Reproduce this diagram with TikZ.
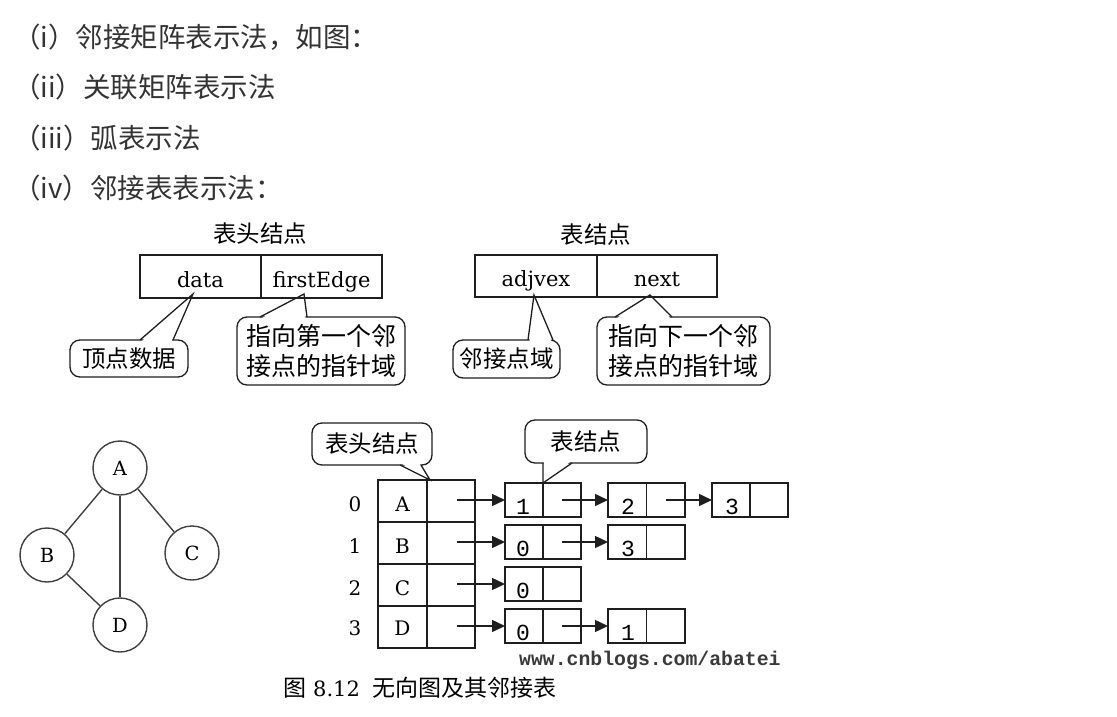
\documentclass[tikz,border=0pt]{standalone}
\usepackage{fontspec}
\setmainfont{DejaVu Serif}
\newfontfamily\cjk{Noto Sans CJK SC}
\newfontfamily\monof{Liberation Mono}
\usetikzlibrary{arrows.meta,calc}
\definecolor{txt}{HTML}{333333}
\definecolor{ln}{HTML}{1E1E1E}
\definecolor{wm}{HTML}{3A3A3A}
\tikzset{
  toptext/.style={anchor=base west, inner sep=0, text=txt, font=\cjk\fontsize{27.5}{30}\selectfont},
  cntitle/.style={inner sep=0, font=\cjk\fontsize{23.5}{28}\selectfont},
  cellbox/.style={draw=ln, line width=1.6pt, inner sep=0, outer sep=0},
  latlbl/.style={anchor=base, inner sep=0, font=\fontsize{21}{24}\selectfont},
  digit/.style={anchor=base, inner sep=0, font=\monof\fontsize{23}{24}\selectfont},
  bubble/.style={draw=ln, line width=1.3pt, rounded corners=10pt, fill=white, inner sep=0,
    font=\cjk\fontsize{23.5}{28}\selectfont},
  bubble2/.style={bubble, align=left, font=\cjk\fontsize{25}{30}\selectfont},
  ptr/.style={draw=ln, line width=1.3pt},
  arr/.style={draw=ln, line width=1.4pt, -{Triangle[length=13pt,width=12pt]}},
  vtx/.style={circle, draw=ln!85, line width=1.4pt, minimum size=54pt, inner sep=0,
    font=\fontsize{19.5}{22}\selectfont},
  gedge/.style={draw=ln!85, line width=1.4pt},
}
\begin{document}
\begin{tikzpicture}[x=1pt,y=-1pt]
\useasboundingbox (0,0) rectangle (1117,717);
\fill[white] (0,0) rectangle (1117,717);

% ---------- top text ----------
\node[toptext] (t1) at (13,47.5) {（i）邻接矩阵表示法，如图：};
\node[toptext] (t2) at (13,98) {（ii）关联矩阵表示法};
\node[toptext] (t3) at (13,148.5) {（iii）弧表示法};
\node[toptext] (t4) at (13,198.5) {（iv）邻接表表示法：};

% ---------- callouts (drawn first, tables on top) ----------
\node[bubble, minimum width=118, minimum height=37] (c1) at (129,358.5) {顶点数据};
\coordinate (c1a) at (140,340); \coordinate (c1b) at (173,340); \coordinate (c1t) at (193,294);
\fill[white] ($(c1a)+(1.5,1.5)$) -- (c1t) -- ($(c1b)+(-1.5,1.5)$) -- cycle;
\draw[ptr] (c1a) -- (c1t) -- (c1b);

\node[bubble2, minimum width=168, minimum height=68] (c2) at (321,351) {指向第一个邻\\接点的指针域};
\coordinate (c2a) at (260,317); \coordinate (c2b) at (307,317); \coordinate (c2t) at (304,294);
\fill[white] ($(c2a)+(1.5,1.5)$) -- (c2t) -- ($(c2b)+(-1.5,1.5)$) -- cycle;
\draw[ptr] (c2a) -- (c2t) -- (c2b);

\node[bubble, minimum width=107, minimum height=38] (c3) at (506.5,359) {邻接点域};
\coordinate (c3a) at (528,340); \coordinate (c3b) at (553,340); \coordinate (c3t) at (534,295);
\fill[white] ($(c3a)+(1.5,1.5)$) -- (c3t) -- ($(c3b)+(-1.5,1.5)$) -- cycle;
\draw[ptr] (c3a) -- (c3t) -- (c3b);

\node[bubble2, minimum width=173, minimum height=68] (c4) at (683.5,351) {指向下一个邻\\接点的指针域};
\coordinate (c4a) at (615,317); \coordinate (c4b) at (672,317); \coordinate (c4t) at (650,295);
\fill[white] ($(c4a)+(1.5,1.5)$) -- (c4t) -- ($(c4b)+(-1.5,1.5)$) -- cycle;
\draw[ptr] (c4a) -- (c4t) -- (c4b);

\node[bubble, minimum width=120, minimum height=42] (c5) at (372,444) {表头结点};
\coordinate (c5a) at (400,465); \coordinate (c5b) at (421,465); \coordinate (c5t) at (430,480);
\fill[white] ($(c5a)+(1.5,-1.5)$) -- (c5t) -- ($(c5b)+(-1.5,-1.5)$) -- cycle;
\draw[ptr] (c5a) -- (c5t) -- (c5b);

\node[bubble, minimum width=122, minimum height=43] (c6) at (586,441.5) {表结点};
\coordinate (c6a) at (543,463); \coordinate (c6b) at (572,463); \coordinate (c6t) at (543,483);
\fill[white] ($(c6a)+(0.8,-1.5)$) -- (c6t) -- ($(c6b)+(-1.5,-1.5)$) -- cycle;
\draw[ptr] (c6a) -- (c6t) -- (c6b);

% ---------- node structure definitions ----------
\node[cntitle] (h1) at (260,234) {表头结点};
\node[cellbox, minimum width=121, minimum height=43] (hd) at (200.5,276.5) {};
\node[cellbox, minimum width=121, minimum height=43] (hf) at (321.5,276.5) {};
\node[latlbl] (hdl) at (200.5,287) {data};
\node[latlbl] (hfl) at (321.5,287) {firstEdge};

\node[cntitle] (h2) at (596,235) {表结点};
\node[cellbox, minimum width=122, minimum height=42] (ta) at (536,276) {};
\node[cellbox, minimum width=120, minimum height=42] (tn) at (657,276) {};
\node[latlbl] (tal) at (536,286) {adjvex};
\node[latlbl] (tnl) at (657,286) {next};

% ---------- graph ----------
\node[vtx] (A) at (120,468) {A};
\node[vtx] (B) at (47,555) {B};
\node[vtx] (C) at (192,553) {C};
\node[vtx] (D) at (120,625) {D};
\draw[gedge] (A) -- (B);
\draw[gedge] (A) -- (C);
\draw[gedge] (A) -- (D);
\draw[gedge] (B) -- (D);

% ---------- vertex table ----------
\foreach \i/\yc/\v/\b in {0/501/A/511,1/543/B/553,2/585/C/595,3/627/D/635}{
  \node[cellbox, minimum width=49, minimum height=42] (v\i) at (402.5,\yc) {};
  \node[cellbox, minimum width=48, minimum height=42] (f\i) at (451,\yc) {};
  \node[latlbl, font=\fontsize{20}{22}\selectfont] (vl\i) at (402.5,\b) {\v};
  \node[latlbl, font=\fontsize{20}{22}\selectfont] (ix\i) at (355,\b) {\i};
}

% ---------- edge lists ----------
% row 0
\node[cellbox, minimum width=38, minimum height=34] (n01) at (524,500) {};
\node[cellbox, minimum width=38, minimum height=34] (p01) at (562,500) {};
\node[cellbox, minimum width=38.5, minimum height=34] (n02) at (627.25,500) {};
\node[cellbox, minimum width=38.5, minimum height=34] (p02) at (665.75,500) {};
\node[cellbox, minimum width=38, minimum height=34] (n03) at (731,500) {};
\node[cellbox, minimum width=38, minimum height=34] (p03) at (769,500) {};
\node[digit] (d01) at (523,514) {1};
\node[digit] (d02) at (628,514) {2};
\node[digit] (d03) at (732,514) {3};
% row 1
\node[cellbox, minimum width=38, minimum height=34] (n11) at (524,542) {};
\node[cellbox, minimum width=38, minimum height=34] (p11) at (562,542) {};
\node[cellbox, minimum width=38.5, minimum height=34] (n12) at (627.25,542) {};
\node[cellbox, minimum width=38.5, minimum height=34] (p12) at (665.75,542) {};
\node[digit] (d11) at (523,556) {0};
\node[digit] (d12) at (628,556) {3};
% row 2
\node[cellbox, minimum width=38, minimum height=34] (n21) at (524,584) {};
\node[cellbox, minimum width=38, minimum height=34] (p21) at (562,584) {};
\node[digit] (d21) at (523,598) {0};
% row 3
\node[cellbox, minimum width=38, minimum height=34] (n31) at (524,626) {};
\node[cellbox, minimum width=38, minimum height=34] (p31) at (562,626) {};
\node[cellbox, minimum width=38.5, minimum height=34] (n32) at (627.25,626) {};
\node[cellbox, minimum width=38.5, minimum height=34] (p32) at (665.75,626) {};
\node[digit] (d31) at (523,640) {0};
\node[digit] (d32) at (628,640) {1};

% arrows from head table
\coordinate (s0) at (457,500);
\coordinate (s1) at (457,542);
\coordinate (s2) at (457,584);
\coordinate (s3) at (457,626);
\draw[arr] (s0) -- (n01.west);
\draw[arr] (s1) -- (n11.west);
\draw[arr] (s2) -- (n21.west);
\draw[arr] (s3) -- (n31.west);
% arrows between list nodes
\draw[arr] (p01.center) -- (n02.west);
\draw[arr] (p02.center) -- (n03.west);
\draw[arr] (p11.center) -- (n12.west);
\draw[arr] (p31.center) -- (n32.west);

% ---------- watermark and caption ----------
\node[anchor=base west, inner sep=0, text=wm, font=\monof\bfseries\fontsize{19.8}{22}\selectfont] (wmk) at (519,665) {www.cnblogs.com/abatei};
\node[anchor=base west, inner sep=0, font=\cjk\fontsize{23}{26}\selectfont] (cap) at (283,696) {图\hspace{7pt}{\fontsize{21}{24}\selectfont\rmfamily 8.12}\hspace{13pt}无向图及其邻接表};
\end{tikzpicture}
\end{document}
